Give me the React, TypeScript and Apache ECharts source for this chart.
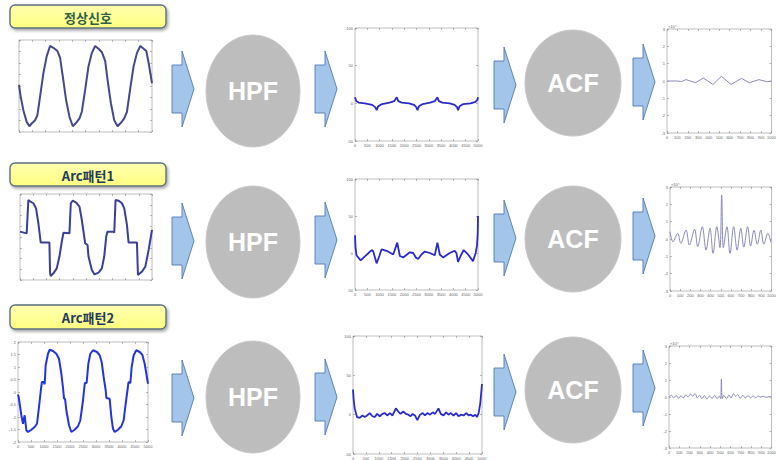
import React, { useEffect, useRef } from "react";
import * as echarts from "echarts";

// ---------- data ----------
const rowLabels = ["정상신호", "Arc패턴1", "Arc패턴2"];
const stageNames = ["HPF", "ACF"];
const acfScaleLabel = "×10⁴";

// raw signals (sample index, amplitude)
const signal1: number[][] = [
  [0, 0.05], [63, -0.46], [163, -1.05], [289, -1.56], [389, -1.75], [477, -1.63], [603, -1.49], [691, -1.27],
  [792, -0.46], [917, 0.56], [1043, 1.3], [1168, 1.74], [1294, 1.66], [1445, 1.52], [1545, 1.22], [1646, 0.42],
  [1771, -0.61], [1897, -1.34], [2023, -1.75], [2148, -1.6], [2274, -1.41], [2362, -1.12], [2487, -0.17],
  [2613, 0.86], [2739, 1.44], [2864, 1.74], [2990, 1.62], [3116, 1.47], [3241, 1.08], [3329, 0.27],
  [3455, -0.75], [3580, -1.49], [3706, -1.75], [3832, -1.6], [3957, -1.41], [4058, -1.12], [4183, -0.1],
  [4309, 0.86], [4435, 1.44], [4560, 1.74], [4686, 1.62], [4786, 1.52], [4874, 1.0], [5000, 0.12],
];
const signal2: number[][] = [
  [0, 0.25], [25, 0.25], [253, 0.17], [316, 1.72], [380, 1.66], [506, 1.57], [608, 1.33], [696, 0.64],
  [785, -0.26], [1114, -0.26], [1139, -1.69], [1165, -1.81], [1266, -1.69], [1392, -1.46], [1494, -0.91],
  [1582, -0.22], [1646, 0.2], [1873, 0.17], [1924, 1.57], [2000, 1.69], [2127, 1.6], [2253, 1.41],
  [2342, 0.79], [2468, -0.29], [2557, -0.37], [2595, -0.91], [2722, -1.53], [2823, -1.74], [2975, -1.66],
  [3101, -1.46], [3190, -0.91], [3266, 0.02], [3316, 0.25], [3544, 0.25], [3570, 0.2], [3620, 1.72],
  [3734, 1.69], [3861, 1.57], [3949, 1.33], [4051, 0.56], [4114, -0.26], [4430, -0.26], [4468, -1.77],
  [4620, -1.61], [4747, -1.38], [4873, -0.6], [5000, 0.33],
];
const signal3: number[][] = [
  [0, -0.1], [26, -0.2], [64, -0.47], [128, -0.93], [192, -1.27], [256, -0.93], [321, -1.53], [385, -1.6],
  [513, -1.51], [641, -1.4], [731, -1.27], [808, -0.6], [885, 0.13], [920, 0.4], [990, 0.4], [1026, 0.31],
  [1064, 1.07], [1154, 1.53], [1218, 1.69], [1346, 1.64], [1474, 1.53], [1577, 1.33], [1667, 0.73],
  [1731, 0.17], [1770, -0.27], [1810, -0.27], [1859, -0.73], [1962, -1.33], [2051, -1.6], [2179, -1.51],
  [2308, -1.37], [2397, -1.13], [2500, -0.33], [2570, 0.36], [2640, 0.36], [2705, 1.13], [2782, 1.53],
  [2885, 1.67], [3038, 1.6], [3141, 1.47], [3218, 1.2], [3295, 0.6], [3372, 0.07], [3400, -0.24],
  [3526, -0.27], [3590, -1.0], [3654, -1.47], [3718, -1.6], [3846, -1.51], [3974, -1.37], [4064, -1.13],
  [4141, -0.47], [4218, 0.13], [4250, 0.4], [4321, 0.36], [4372, 1.0], [4449, 1.47], [4551, 1.67],
  [4679, 1.6], [4782, 1.49], [4872, 1.13], [5000, 0.33],
];

// high-pass filtered signals
const hpf1: number[][] = [
  [0, 8], [50, 3], [150, 1], [400, 0], [700, -2], [820, -5], [880, -9], [940, -4], [1100, -1], [1400, 1],
  [1600, 3], [1700, 8], [1760, 3], [1900, 1], [2200, 0], [2400, -2], [2490, -5], [2540, -9], [2600, -4],
  [2750, -1], [3050, 1], [3250, 3], [3350, 8], [3410, 3], [3550, 1], [3850, 0], [4050, -2], [4150, -5],
  [4190, -9], [4250, -4], [4400, -1], [4700, 0], [4900, 2], [4980, 5], [5000, 8],
];
const hpf2: number[][] = [
  [0, 24], [20, 8], [60, -3], [230, -10], [676, 4], [743, 2], [878, -14], [1000, -3], [1081, 5], [1284, 3],
  [1554, -2], [1716, 14], [1824, -4], [1959, -6], [2230, 1], [2365, 0], [2473, -6], [2568, -8], [2703, -2],
  [2838, 2], [3041, 0], [3243, -3], [3351, 14], [3446, -2], [3581, -6], [3851, 0], [4054, 3], [4122, 0],
  [4189, -12], [4324, -2], [4419, 4], [4595, -2], [4797, -11], [4905, 0], [4960, 10], [4990, 28], [5000, 50],
];
const hpf3: number[][] = [
  [0, 32], [30, 18], [65, 8], [156, -3], [260, -4], [364, -1], [455, -3], [545, -1], [649, 2], [753, -2],
  [844, -3], [935, 1], [1039, -2], [1143, 1], [1234, 2], [1325, -1], [1429, 2], [1532, -1], [1662, 8],
  [1753, 4], [1844, 1], [1948, 4], [2052, 1], [2143, 0], [2234, -2], [2312, 1], [2403, -1], [2494, -7],
  [2597, 0], [2701, 2], [2792, -1], [2883, 2], [2987, 0], [3091, 3], [3182, 1], [3312, 8], [3403, 1],
  [3506, -1], [3610, 3], [3701, 0], [3792, 2], [3896, -1], [4000, 2], [4091, -2], [4182, 0], [4286, -1],
  [4390, 2], [4481, -1], [4571, 0], [4649, -2], [4740, 0], [4805, -3], [4870, 2], [4935, 15], [5000, 39],
];

// autocorrelation (lag, value ×10^4)
const acf1: number[][] = [
  [0, 0], [91, 0], [140, -0.03], [182, 0.08], [273, -0.1], [348, 0.17], [439, -0.2], [521, 0.27],
  [612, -0.2], [712, 0.15], [788, -0.1], [879, 0.08], [955, -0.04], [1000, 0],
];
const acf2: number[][] = [
  [0, 0.42], [30, -0.16], [76, 0.33], [106, -0.25], [158, 0.52], [191, -0.35], [242, 0.56], [273, -0.44],
  [318, 0.71], [355, -0.64], [394, 0.62], [424, -0.83], [461, 0.71], [492, -0.5], [509, 2.54], [526, -0.5],
  [561, 0.71], [591, -0.83], [627, 0.71], [661, -0.64], [697, 0.62], [727, -0.47], [764, 0.71], [794, -0.4],
  [827, 0.5], [860, -0.3], [894, 0.52], [924, -0.3], [964, 0.33], [994, -0.2],
];
const acf3: number[][] = [
  [0, 0], [25, 0.1], [45, -0.05], [70, 0.08], [95, -0.08], [115, 0.06], [140, -0.04], [165, 0.12], [185, 0],
  [210, 0.18], [230, 0.05], [255, 0.2], [275, -0.05], [300, 0.1], [320, -0.1], [345, 0.08], [370, -0.12],
  [395, 0.06], [420, -0.08], [445, 0.1], [470, -0.1], [490, 0.05], [503, -0.1], [511, 1.05], [519, -0.1],
  [535, 0.1], [560, -0.1], [585, 0.12], [605, -0.05], [630, 0.2], [650, 0.05], [670, 0.15], [695, -0.08],
  [720, 0.1], [745, -0.06], [770, 0.08], [795, -0.05], [820, 0.06], [845, -0.04], [870, 0.05], [895, 0],
  [920, 0.04], [950, -0.02], [980, 0.03], [1000, 0],
];

// ---------- layout ----------
type Rect = [number, number, number, number];
interface RowLayout {
  box: Rect;
  labelColor: string;
  sig: Rect;
  hpf: Rect;
  acf: Rect;
  hpfC: [number, number];
  acfC: [number, number];
  arrowY: number[];
  sigColor: string;
  sigLabels: boolean;
}
const rows: RowLayout[] = [
  { box: [10, 5, 156, 23], labelColor: "#2f5f45", sig: [19, 40, 133, 92], hpf: [355, 28, 123, 113], acf: [667, 29, 112, 104],
    hpfC: [253, 91], acfC: [573, 83], arrowY: [89, 89, 85, 82], sigColor: "#45488a", sigLabels: false },
  { box: [10, 163, 156, 23], labelColor: "#1e3a5c", sig: [20, 194, 132, 86], hpf: [355, 179, 123, 111], acf: [670, 187, 112, 104],
    hpfC: [253, 242], acfC: [573, 239], arrowY: [241, 240, 238, 236], sigColor: "#3a3f98", sigLabels: false },
  { box: [10, 305, 156, 24], labelColor: "#1e3a5c", sig: [18, 342, 130, 100], hpf: [353, 336, 129, 120], acf: [669, 346, 112, 102],
    hpfC: [253, 397], acfC: [573, 390], arrowY: [398, 397, 392, 388], sigColor: "#2233e0", sigLabels: true },
];
const arrowX = [172, 315, 494, 633];

export default function App() {
  const ref = useRef<HTMLDivElement>(null);
  useEffect(() => {
    if (!ref.current) return;
    const chart = echarts.init(ref.current, undefined, { renderer: "svg" });
    const grids: any[] = [];
    const xAxes: any[] = [];
    const yAxes: any[] = [];
    const series: any[] = [];
    const graphics: any[] = [];
    const tick = { inside: true, length: 2, lineStyle: { color: "#8a8a8a", width: 0.6 } };
    const lbl = { fontSize: 4, color: "#666", margin: 2, fontFamily: "Liberation Sans", formatter: (v: number) => String(v) };

    const addPlot = (r: Rect, xr: number[], yr: number[], data: number[][], color: string, width: number, labels: boolean, smooth: number) => {
      const gi = grids.length;
      grids.push({ left: r[0], top: r[1], width: r[2], height: r[3], show: true, borderColor: "#a0a0a0", borderWidth: 0.7, backgroundColor: "#fff" });
      const xa = xAxes.length;
      const ya = yAxes.length;
      const common = { type: "value", gridIndex: gi, axisLine: { show: false, onZero: false }, splitLine: { show: false }, axisTick: tick };
      xAxes.push({ ...common, min: xr[0], max: xr[1], interval: xr[2], position: "bottom", axisLabel: { ...lbl, show: labels } });
      xAxes.push({ ...common, min: xr[0], max: xr[1], interval: xr[2], position: "top", axisLabel: { show: false } });
      yAxes.push({ ...common, min: yr[0], max: yr[1], interval: yr[2], position: "left", axisLabel: { ...lbl, show: labels } });
      yAxes.push({ ...common, min: yr[0], max: yr[1], interval: yr[2], position: "right", axisLabel: { show: false } });
      series.push({ type: "line", xAxisIndex: xa, yAxisIndex: ya, data, showSymbol: false, silent: true, smooth,
        lineStyle: { color, width }, clip: true });
    };

    const sigs = [signal1, signal2, signal3];
    const hpfs = [hpf1, hpf2, hpf3];
    const acfs = [acf1, acf2, acf3];

    rows.forEach((row, i) => {
      addPlot(row.sig, [0, 5000, 500], [-2, 2, 0.5], sigs[i], row.sigColor, 2, row.sigLabels, 0);
      addPlot(row.hpf, [0, 5000, 500], [-50, 100, 50], hpfs[i], "#2a2acc", 1.8, true, 0);
      addPlot(row.acf, [0, 1000, 100], [-3, 3, 1], acfs[i], "#8a8abb", 1, true, i === 0 ? 0 : 0.35);

      // label box
      const [bx, by, bw, bh] = row.box;
      graphics.push({
        type: "rect", shape: { x: bx, y: by, width: bw, height: bh, r: 5 },
        style: {
          fill: new echarts.graphic.LinearGradient(0, 0, 0, 1, [
            { offset: 0, color: "#ffffb0" }, { offset: 1, color: "#ffff80" },
          ]),
          stroke: "#5d7080", lineWidth: 1.4, shadowBlur: 3, shadowOffsetX: 1.5, shadowOffsetY: 2, shadowColor: "rgba(0,0,0,0.35)",
        },
      });
      graphics.push({
        type: "text", x: bx + bw / 2, y: by + bh / 2 + 0.5,
        style: { text: rowLabels[i], fill: row.labelColor, font: "bold 13px 'Noto Sans CJK KR', 'Liberation Sans'",
          textAlign: "center", textVerticalAlign: "middle" },
      });

      // arrows
      arrowX.forEach((ax, k) => {
        const cy = row.arrowY[k];
        graphics.push({
          type: "polygon",
          shape: { points: [[ax, cy - 24], [ax + 10, cy - 24], [ax + 10, cy - 38], [ax + 22, cy], [ax + 10, cy + 38], [ax + 10, cy + 24], [ax, cy + 24]] },
          style: { fill: "#a3c5ea", stroke: "#5378b3", lineWidth: 0.9 },
        });
      });

      // circles
      const circles: [number, number, string, number, number][] = [
        [row.hpfC[0], row.hpfC[1], stageNames[0], 47, 56],
        [row.acfC[0], row.acfC[1], stageNames[1], 48, 53],
      ];
      circles.forEach(([cx, cy, name, rx, ry]) => {
        graphics.push({ type: "ellipse", shape: { cx, cy, rx, ry }, style: { fill: "#bdbdbd", stroke: "#c8c8c8", lineWidth: 1 } });
        graphics.push({
          type: "text", x: cx, y: cy,
          style: { text: name, fill: "#ffffff", font: "bold 25px 'Liberation Sans', Arial", textAlign: "center", textVerticalAlign: "middle" },
        });
      });

      // acf scale label
      graphics.push({
        type: "text", x: row.acf[0] + 1, y: row.acf[1] - 1,
        style: { text: acfScaleLabel, fill: "#666", font: "4px 'Liberation Sans'", textAlign: "left", textVerticalAlign: "bottom" },
      });
    });

    chart.setOption({
      animation: false,
      backgroundColor: "#ffffff",
      textStyle: { fontFamily: "Liberation Sans" },
      grid: grids,
      xAxis: xAxes,
      yAxis: yAxes,
      series,
      graphic: { elements: graphics },
    });
    return () => chart.dispose();
  }, []);
  return <div ref={ref} style={{ position: "fixed", left: 0, top: 0, width: 779, height: 460 }} />;
}
